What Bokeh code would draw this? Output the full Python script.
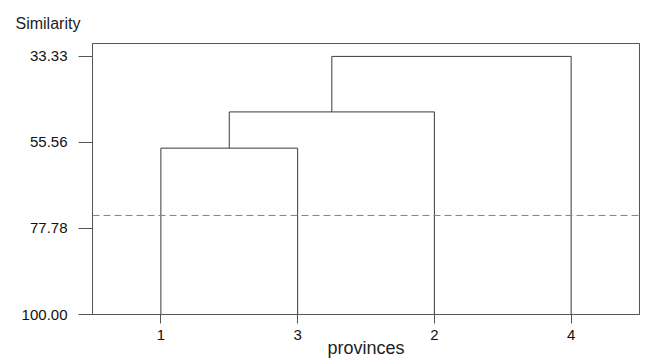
from bokeh.plotting import figure
from bokeh.models import Range1d, FixedTicker, Span
from bokeh.embed import file_html
from bokeh.resources import INLINE

# Leaf order along the x axis (province labels)
leaf_labels = ["1", "3", "2", "4"]
leaf_positions = [1, 2, 3, 4]

# Agglomeration steps: (left child, right child, similarity at merge)
# children < 4 are leaf indices, >= 4 refer to earlier merges
merge_left = [0, 4, 5]
merge_right = [1, 2, 3]
merge_similarity = [57.03, 47.67, 33.33]

# Similarity level of the cut
cut_similarity = 74.42

# Y axis ticks
y_ticks = [33.33, 55.56, 77.78, 100.00]
y_tick_labels = ["33.33", "55.56", "77.78", "100.00"]

FONT = "Liberation Sans"
AXIS_COLOR = "#555555"
LINE_COLOR = "#3a3a3a"

p = figure(width=652, height=362, output_backend="svg", toolbar_location=None,
           x_range=Range1d(0.5, 4.5), y_range=Range1d(100.0, 30.0),
           min_border_left=92, min_border_right=13, min_border_top=43,
           min_border_bottom=48)
p.background_fill_color = "white"
p.border_fill_color = "white"
p.outline_line_color = AXIS_COLOR
p.outline_line_width = 1
p.xgrid.visible = False
p.ygrid.visible = False

# Title used as the y-axis caption at the top left
p.title.text = "Similarity"
p.title.text_font = FONT
p.title.text_font_size = "16px"
p.title.text_font_style = "normal"
p.title.text_color = "#222222"
p.title.align = "left"
p.title.offset = -77
p.title.standoff = 23

# Dendrogram segments built from the merge table
node_x = list(leaf_positions)
node_h = [100.0] * len(leaf_positions)
xs, ys = [], []
for l, r, s in zip(merge_left, merge_right, merge_similarity):
    xl, xr = node_x[l], node_x[r]
    xs.append([xl, xl, xr, xr])
    ys.append([node_h[l], s, s, node_h[r]])
    node_x.append((xl + xr) / 2)
    node_h.append(s)
p.multi_line(xs, ys, line_color=LINE_COLOR, line_width=1)

# Cut line
p.add_layout(Span(location=cut_similarity, dimension="width",
                  line_color="#ff5050", line_width=1, line_dash="7 4"))

# X axis
xa = p.xaxis[0]
xa.ticker = FixedTicker(ticks=leaf_positions)
xa.major_label_overrides = {pos: lab for pos, lab in zip(leaf_positions, leaf_labels)}
xa.minor_tick_line_color = None
xa.major_tick_in = 0
xa.major_tick_out = 9
xa.major_tick_line_color = AXIS_COLOR
xa.axis_line_color = AXIS_COLOR
xa.major_label_standoff = 6
xa.major_label_text_font = FONT
xa.major_label_text_font_size = "15px"
xa.major_label_text_color = "#111111"
xa.axis_label = "provinces"
xa.axis_label_text_font = FONT
xa.axis_label_text_font_size = "18px"
xa.axis_label_text_font_style = "normal"
xa.axis_label_text_color = "#222222"
xa.axis_label_standoff = -5

# Y axis
ya = p.yaxis[0]
ya.ticker = FixedTicker(ticks=y_ticks)
ya.major_label_overrides = {t: lab for t, lab in zip(y_ticks, y_tick_labels)}
ya.minor_tick_line_color = None
ya.major_tick_in = 0
ya.major_tick_out = 14
ya.major_tick_line_color = AXIS_COLOR
ya.axis_line_color = AXIS_COLOR
ya.major_label_standoff = 11
ya.major_label_text_font = FONT
ya.major_label_text_font_size = "15px"
ya.major_label_text_color = "#111111"

open("out.html", "w").write(file_html(p, INLINE))
